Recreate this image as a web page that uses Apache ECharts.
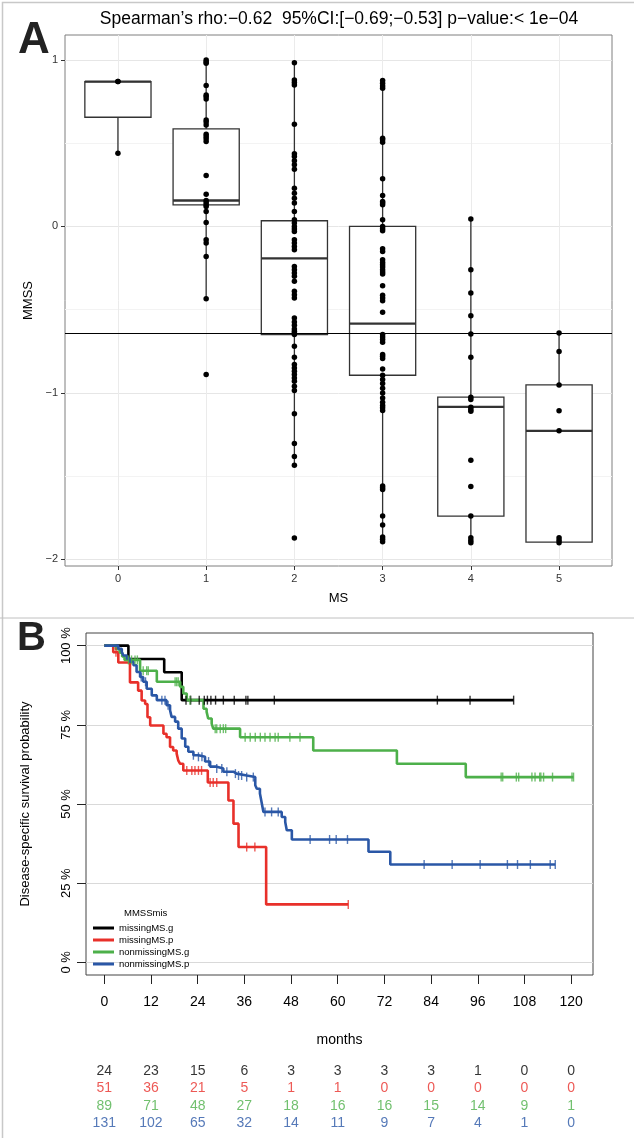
<!DOCTYPE html>
<html><head><meta charset="utf-8">
<script src="https://cdn.jsdelivr.net/npm/echarts@6/dist/echarts.min.js"></script>
<style>html,body{margin:0;padding:0;background:#fff}#c{width:634px;height:1138px}</style>
</head><body><div id="c"></div>
<script>
// ---------- Panel A data ----------
const msCategories = [0, 1, 2, 3, 4, 5];
const mmssMS0 = [0.87, 0.87, 0.44];
const mmssMS1 = [1.0, 0.99, 0.98, 0.846, 0.79, 0.78, 0.766, 0.64, 0.627, 0.61, 0.554, 0.54, 0.526, 0.51, 0.306, 0.194, 0.156, 0.144, 0.13, 0.12, 0.09, 0.024, -0.08, -0.1, -0.18, -0.434, -0.89];
const mmssMS2 = [0.984, 0.88, 0.864, 0.85, 0.614, 0.436, 0.42, 0.394, 0.37, 0.344, 0.23, 0.2, 0.17, 0.14, 0.09, 0.04, 0.02, 0.0, -0.016, -0.03, -0.08, -0.1, -0.12, -0.14, -0.24, -0.26, -0.28, -0.3, -0.33, -0.39, -0.41, -0.43, -0.55, -0.574, -0.594, -0.616, -0.63, -0.64, -0.65, -0.72, -0.786, -0.83, -0.85, -0.87, -0.89, -0.91, -0.93, -0.96, -0.986, -1.125, -1.304, -1.382, -1.434, -1.872];
const mmssMS3 = [0.876, 0.86, 0.844, 0.83, 0.53, 0.52, 0.506, 0.286, 0.186, 0.15, 0.14, 0.13, 0.04, 0.0, -0.014, -0.026, -0.134, -0.15, -0.2, -0.216, -0.23, -0.244, -0.26, -0.274, -0.286, -0.356, -0.414, -0.43, -0.446, -0.516, -0.65, -0.664, -0.68, -0.696, -0.77, -0.78, -0.794, -0.856, -0.894, -0.92, -0.944, -0.972, -1.0, -1.03, -1.056, -1.076, -1.09, -1.106, -1.56, -1.57, -1.58, -1.74, -1.794, -1.866, -1.88, -1.894];
const mmssMS4 = [0.045, -0.26, -0.40, -0.536, -0.646, -0.786, -1.026, -1.04, -1.086, -1.10, -1.11, -1.404, -1.562, -1.74, -1.87, -1.887, -1.90];
const mmssMS5 = [-0.64, -0.752, -0.952, -1.108, -1.228, -1.87, -1.886, -1.90];
// box statistics: [low whisker, Q1, median, Q3, high whisker]
const boxLow = [0.44, -0.434, -1.434, -1.894, -1.894, -1.896];
const boxQ1 = [0.656, 0.13, -0.65, -0.894, -1.74, -1.896];
const boxMedian = [0.87, 0.156, -0.192, -0.584, -1.084, -1.228];
const boxQ3 = [0.87, 0.586, 0.034, 0.0, -1.026, -0.952];
const boxHigh = [0.87, 1.0, 0.984, 0.876, 0.045, -0.64];
const refLineValue = -0.64;
const yTicksA = [-2, -1, 0, 1];
const yMinorA = [-1.5, -0.5, 0.5];
const titleA = "Spearman\u2019s rho:\u22120.62  95%CI:[\u22120.69;\u22120.53] p\u2212value:< 1e\u221204";

// ---------- Panel B data ----------
const groupNames = ['missingMS.g', 'missingMS.p', 'nonmissingMS.g', 'nonmissingMS.p'];
const groupColors = ['#000000', '#E8302A', '#4DB04A', '#2A57A6'];
const blackTime = [0, 6.2, 15.4, 19.9, 105.2];
const blackSurv = [1, 0.958, 0.916, 0.828, 0.828];
const blackCensor = [21.0, 22.2, 24.4, 25.7, 26.5, 27.4, 28.6, 30.6, 33.4, 36.4, 36.9, 43.7, 85.6, 94.0, 105.2];
const redTime = [0, 2.3, 3.6, 6.6, 8.7, 9.6, 10.5, 11.1, 11.8, 15.2, 16.0, 16.9, 17.7, 18.6, 19.0, 19.5, 20.3, 26.6, 31.9, 33.2, 34.5, 41.6, 62.7];
const redSurv = [1, 0.979, 0.947, 0.884, 0.858, 0.827, 0.816, 0.774, 0.748, 0.722, 0.711, 0.680, 0.669, 0.659, 0.638, 0.627, 0.606, 0.568, 0.511, 0.438, 0.364, 0.183, 0.183];
const redCensor = [3.0, 21.2, 22.5, 23.3, 24.2, 25.0, 27.2, 28.0, 28.9, 36.6, 38.7, 62.7];
const greenTime = [0, 3.0, 4.0, 4.6, 5.2, 9.2, 13.5, 19.5, 20.3, 21.2, 25.5, 26.3, 26.7, 27.6, 28.0, 34.9, 53.7, 75.2, 92.9, 120.6];
const greenSurv = [1, 0.989, 0.978, 0.966, 0.955, 0.921, 0.886, 0.870, 0.849, 0.828, 0.801, 0.791, 0.770, 0.754, 0.738, 0.711, 0.669, 0.627, 0.585, 0.585];
const greenCensor = [6.2, 7.0, 7.9, 8.5, 10.0, 10.9, 11.3, 18.2, 18.6, 19.0, 22.0, 28.5, 28.9, 29.8, 30.6, 31.2, 36.2, 37.5, 38.8, 40.1, 41.3, 42.6, 43.9, 44.7, 47.7, 50.3, 102.0, 102.4, 105.9, 106.5, 109.9, 110.7, 111.9, 112.2, 112.9, 115.2, 120.2, 120.6];
const blueTime = [0, 3.6, 4.5, 4.9, 5.8, 6.6, 7.5, 8.3, 9.2, 10.0, 10.9, 12.2, 13.5, 16.0, 16.9, 17.3, 18.2, 19.0, 19.9, 20.8, 21.6, 22.9, 24.2, 25.9, 27.2, 28.9, 30.6, 33.2, 34.0, 36.6, 38.8, 39.2, 40.0, 40.5, 40.9, 45.6, 46.5, 46.9, 48.2, 67.9, 73.5, 115.9];
const blueSurv = [1, 0.990, 0.980, 0.969, 0.959, 0.949, 0.938, 0.917, 0.901, 0.886, 0.864, 0.843, 0.828, 0.812, 0.796, 0.775, 0.760, 0.738, 0.707, 0.681, 0.665, 0.654, 0.649, 0.634, 0.618, 0.612, 0.602, 0.596, 0.590, 0.585, 0.559, 0.548, 0.533, 0.501, 0.475, 0.459, 0.443, 0.417, 0.388, 0.349, 0.309, 0.309];
const blueCensor = [9.5, 10.6, 14.8, 15.6, 16.4, 22.9, 24.2, 25.1, 26.8, 28.9, 30.2, 31.5, 33.7, 34.5, 35.3, 36.6, 38.3, 41.3, 43.0, 44.7, 52.9, 57.9, 59.6, 62.5, 82.2, 89.4, 96.6, 103.6, 106.2, 109.5, 114.6, 115.9];
const monthTicks = [0, 12, 24, 36, 48, 60, 72, 84, 96, 108, 120];
const survTicks = [0, 0.25, 0.5, 0.75, 1];
const riskBlack = [24, 23, 15, 6, 3, 3, 3, 3, 1, 0, 0];
const riskRed = [51, 36, 21, 5, 1, 1, 0, 0, 0, 0, 0];
const riskGreen = [89, 71, 48, 27, 18, 16, 16, 15, 14, 9, 1];
const riskBlue = [131, 102, 65, 32, 14, 11, 9, 7, 4, 1, 0];

// ---------- build ----------
const FONT = '"Liberation Sans", Arial, sans-serif';
const chart = echarts.init(document.getElementById('c'), null, {renderer: 'canvas'});

const msPoints = [mmssMS0, mmssMS1, mmssMS2, mmssMS3, mmssMS4, mmssMS5];
const pointData = [];
msPoints.forEach((arr, i) => arr.forEach(v => pointData.push([msCategories[i], v])));
const boxData = msCategories.map((c, i) => [c, boxLow[i], boxQ1[i], boxMedian[i], boxQ3[i], boxHigh[i]]);

function survAt(times, surv, t) {
  let s = surv[0];
  for (let i = 0; i < times.length; i++) { if (times[i] <= t) s = surv[i]; }
  return s;
}
const groups = [
  {t: blackTime, s: blackSurv, c: blackCensor, r: riskBlack},
  {t: redTime, s: redSurv, c: redCensor, r: riskRed},
  {t: greenTime, s: greenSurv, c: greenCensor, r: riskGreen},
  {t: blueTime, s: blueSurv, c: blueCensor, r: riskBlue}
];

const series = [];
series.push({
  type: 'custom', xAxisIndex: 0, yAxisIndex: 0, z: 3, silent: true,
  data: boxData,
  renderItem: function (params, api) {
    const x = api.value(0);
    const pLow = api.coord([x, api.value(1)]);
    const pQ1 = api.coord([x, api.value(2)]);
    const pMed = api.coord([x, api.value(3)]);
    const pQ3 = api.coord([x, api.value(4)]);
    const pHigh = api.coord([x, api.value(5)]);
    const hw = api.size([0.75, 0])[0] / 2;
    const st = {stroke: '#333', lineWidth: 1.3};
    return {type: 'group', children: [
      {type: 'line', shape: {x1: pLow[0], y1: pLow[1], x2: pQ1[0], y2: pQ1[1]}, style: st},
      {type: 'line', shape: {x1: pQ3[0], y1: pQ3[1], x2: pHigh[0], y2: pHigh[1]}, style: st},
      {type: 'rect', shape: {x: pQ3[0] - hw, y: pQ3[1], width: 2 * hw, height: pQ1[1] - pQ3[1]}, style: {fill: '#fff', stroke: '#333', lineWidth: 1.3}},
      {type: 'line', shape: {x1: pMed[0] - hw, y1: pMed[1], x2: pMed[0] + hw, y2: pMed[1]}, style: {stroke: '#333', lineWidth: 2.4}}
    ]};
  }
});
series.push({
  type: 'scatter', xAxisIndex: 0, yAxisIndex: 0, z: 5, silent: true,
  data: pointData, symbolSize: 5.5, itemStyle: {color: '#000', opacity: 1},
  markLine: {silent: true, symbol: 'none', label: {show: false}, lineStyle: {color: '#000', width: 1.1, type: 'solid'},
    data: [{yAxis: refLineValue}]}
});
series.push({type: 'line', xAxisIndex: 0, yAxisIndex: 1, data: [], silent: true});

groups.forEach((g, i) => {
  series.push({
    name: groupNames[i], type: 'line', step: 'end', xAxisIndex: 1, yAxisIndex: 2,
    showSymbol: false, symbol: 'none', z: 4 + i, silent: true,
    lineStyle: {color: groupColors[i], width: 2.6}, itemStyle: {color: groupColors[i]},
    data: g.t.map((t, k) => [t, g.s[k]])
  });
  series.push({
    name: groupNames[i] + ' censored', type: 'scatter', xAxisIndex: 1, yAxisIndex: 2, z: 8 + i, silent: true,
    symbol: 'rect', symbolSize: [1.4, 9], itemStyle: {color: groupColors[i]},
    data: g.c.map(t => [t, survAt(g.t, g.s, t)])
  });
  series.push({
    name: groupNames[i] + ' at risk', type: 'scatter', xAxisIndex: 2, yAxisIndex: 3, silent: true,
    symbolSize: 1, itemStyle: {color: 'rgba(0,0,0,0)'},
    label: {show: true, position: 'inside', color: groupColors[i], fontSize: 14, fontFamily: FONT,
      formatter: p => String(p.value[2])},
    data: monthTicks.map((t, k) => [t, i, g.r[k]])
  });
});

const noLine = {show: false, onZero: false};
const option = {
  animation: false,
  textStyle: {fontFamily: FONT},
  title: [
    {text: titleA, left: 334, top: 5, textAlign: 'center', textStyle: {fontSize: 17.5, fontWeight: 'normal', color: '#000', fontFamily: FONT}},
    {text: 'A', left: 13, top: 14, textStyle: {fontSize: 44, fontWeight: 'bold', color: '#222', fontFamily: FONT}},
    {text: 'B', left: 12, top: 614, textStyle: {fontSize: 40, fontWeight: 'bold', color: '#222', fontFamily: FONT}},
    {text: 'MMSSmis', left: 119, top: 903, textStyle: {fontSize: 9.5, fontWeight: 'normal', color: '#000', fontFamily: FONT}}
  ],
  graphic: [
    {type: 'rect', left: 0, top: 0, shape: {width: 633, height: 1137}, style: {fill: 'none', stroke: '#c8c8c8', lineWidth: 1.5}, silent: true},
    {type: 'line', shape: {x1: 0, y1: 618, x2: 634, y2: 618}, style: {stroke: '#c0c0c0', lineWidth: 1}, silent: true}
  ],
  legend: {
    data: groupNames, orient: 'vertical', left: 93, top: 923, itemGap: 2,
    icon: 'rect', itemWidth: 21, itemHeight: 3,
    textStyle: {fontSize: 9.5, color: '#000', fontFamily: FONT, padding: [0, 0, 0, 0]},
    selectedMode: false, padding: 0
  },
  grid: [
    {left: 65, right: 22, top: 35, bottom: 572, show: true, borderColor: '#7f7f7f', borderWidth: 1, backgroundColor: 'rgba(0,0,0,0)'},
    {left: 86, right: 41, top: 633, bottom: 163, show: true, borderColor: '#444', borderWidth: 1, backgroundColor: 'rgba(0,0,0,0)'},
    {left: 86, right: 41, top: 1062, height: 70}
  ],
  xAxis: [
    {type: 'value', gridIndex: 0, min: -0.6, max: 5.6, name: 'MS', nameLocation: 'middle', nameGap: 26,
      nameTextStyle: {fontSize: 13, color: '#000'},
      axisLine: noLine,
      axisTick: {show: true, length: 4, customValues: msCategories, lineStyle: {color: '#333'}},
      axisLabel: {customValues: msCategories, fontSize: 11, color: '#333', margin: 7},
      splitLine: {show: true, lineStyle: {color: '#ebebeb', width: 1}}},
    {type: 'value', gridIndex: 1, min: -4.7, max: 125.6, name: 'months', nameLocation: 'middle', nameGap: 58,
      nameTextStyle: {fontSize: 14, color: '#000'},
      axisLine: noLine,
      axisTick: {show: true, length: 9, customValues: monthTicks, lineStyle: {color: '#222', width: 1}},
      axisLabel: {customValues: monthTicks, fontSize: 14, color: '#000', margin: 20},
      splitLine: {show: false}},
    {type: 'value', gridIndex: 2, min: -4.7, max: 125.6, show: false, axisLine: noLine}
  ],
  yAxis: [
    {type: 'value', gridIndex: 0, min: -2.04, max: 1.15, name: 'MMSS', nameLocation: 'middle', nameGap: 28, nameRotate: 90,
      nameTextStyle: {fontSize: 13, color: '#000'},
      axisLine: noLine,
      axisTick: {show: true, length: 4, customValues: yTicksA, lineStyle: {color: '#333'}},
      axisLabel: {customValues: yTicksA, fontSize: 11, color: '#333', margin: 7,
        formatter: v => (v < 0 ? '\u2212' + Math.abs(v) : String(v))},
      splitLine: {show: true, lineStyle: {color: '#e6e6e6', width: 1}}},
    {type: 'value', gridIndex: 0, min: -2.04, max: 1.15, position: 'left',
      axisLine: noLine, axisTick: {show: false, customValues: yMinorA}, axisLabel: {show: false, customValues: yMinorA},
      splitLine: {show: true, lineStyle: {color: '#f3f3f3', width: 1}}},
    {type: 'value', gridIndex: 1, min: -0.04, max: 1.04,
      name: 'Disease-specific survival probability', nameLocation: 'middle', nameGap: 54, nameRotate: 90,
      nameTextStyle: {fontSize: 13, color: '#000'},
      axisLine: noLine,
      axisTick: {show: true, length: 9, customValues: survTicks, lineStyle: {color: '#222', width: 1}},
      axisLabel: {customValues: survTicks, fontSize: 13, color: '#000', rotate: 90, margin: 13,
        formatter: v => Math.round(v * 100) + ' %'},
      splitLine: {show: true, lineStyle: {color: '#d9d9d9', width: 1}}},
    {type: 'category', gridIndex: 2, data: groupNames, inverse: true, show: false, axisLine: noLine}
  ],
  series: series
};
chart.setOption(option);
</script>
</body></html>
